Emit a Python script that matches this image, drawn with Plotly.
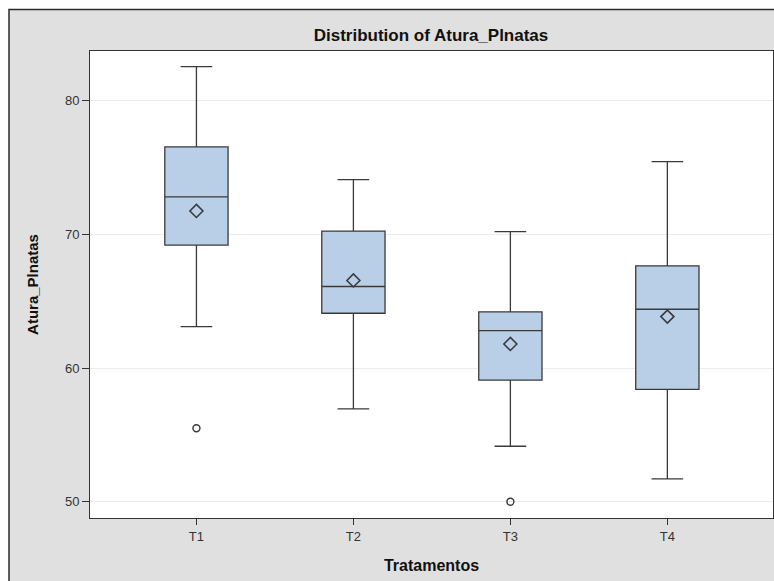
import plotly.graph_objects as go

categories = ["T1", "T2", "T3", "T4"]
q1_vals = [69.2, 64.1, 59.1, 58.4]
median_vals = [72.8, 66.1, 62.8, 64.4]
q3_vals = [76.55, 70.25, 64.2, 67.65]
lower_whisker = [63.1, 56.95, 54.15, 51.7]
upper_whisker = [82.55, 74.1, 70.2, 75.45]
mean_vals = [71.75, 66.55, 61.8, 63.85]
outlier_cats = ["T1", "T3"]
outlier_vals = [55.5, 50.0]
y_ticks = [50, 60, 70, 80]

FONT = "Liberation Sans, Arial, sans-serif"
LINE = "#3a3a3a"

fig = go.Figure()
fig.add_trace(go.Box(
    x=categories, q1=q1_vals, median=median_vals, q3=q3_vals,
    lowerfence=lower_whisker, upperfence=upper_whisker,
    fillcolor="#B9CFE7", line=dict(color=LINE, width=1.3),
    width=0.403, whiskerwidth=0.5, boxpoints=False, showlegend=False,
))
fig.add_trace(go.Scatter(
    x=categories, y=mean_vals, mode="markers",
    marker=dict(symbol="diamond-open", size=10, color=LINE, line=dict(width=1.6, color=LINE)),
    showlegend=False,
))
fig.add_trace(go.Scatter(
    x=outlier_cats, y=outlier_vals, mode="markers",
    marker=dict(symbol="circle-open", size=7, color=LINE, line=dict(width=1.4, color=LINE)),
    showlegend=False,
))

L, R, T, B = 90, 1, 51, 63
W, H = 774, 581
pw, ph = W - L - R, H - T - B

def px_x(p):
    return (p - L) / pw

def px_y(p):
    return (H - B - p) / ph

fig.add_shape(type="rect", xref="paper", yref="paper",
              x0=px_x(9), x1=px_x(800), y0=px_y(600), y1=px_y(9.5),
              fillcolor="#E0E0E0", line=dict(color="#2a2a2a", width=1.5), layer="below")
fig.add_shape(type="rect", xref="paper", yref="paper",
              x0=0, x1=1, y0=0, y1=1,
              fillcolor="white", line=dict(width=0), layer="below")

fig.update_layout(
    width=W, height=H,
    margin=dict(l=L, r=R, t=T, b=B, pad=0),
    paper_bgcolor="white", plot_bgcolor="white",
    title=dict(text="<b>Distribution of Atura_Plnatas</b>", x=431 / W,
               xanchor="center", y=1 - 35 / H, yanchor="middle",
               font=dict(family=FONT, size=17, color="#111")),
    font=dict(family=FONT, color="#333"),
)
fig.update_xaxes(
    type="category", categoryorder="array", categoryarray=categories,
    range=[-0.678, 3.673],
    showline=True, mirror=True, linecolor="#333", linewidth=1,
    ticks="outside", ticklen=6, tickcolor="#333", tickwidth=1,
    showgrid=False, zeroline=False,
    tickfont=dict(family=FONT, size=13, color="#333"),
    title=dict(text="<b>Tratamentos</b>", font=dict(family=FONT, size=16, color="#111"), standoff=17),
)
fig.update_yaxes(
    range=[48.78, 83.72], tickvals=y_ticks,
    showline=True, mirror=True, linecolor="#333", linewidth=1,
    ticks="outside", ticklen=7, tickcolor="#333", tickwidth=1,
    showgrid=True, gridcolor="#EBEBEB", gridwidth=1, zeroline=False,
    tickfont=dict(family=FONT, size=13, color="#333"),
    title=dict(text="<b>Atura_Plnatas</b>", font=dict(family=FONT, size=15, color="#111"), standoff=22),
)

fig.write_html("out.html", config={"displayModeBar": False},
               post_script="document.body.style.margin='0';")
